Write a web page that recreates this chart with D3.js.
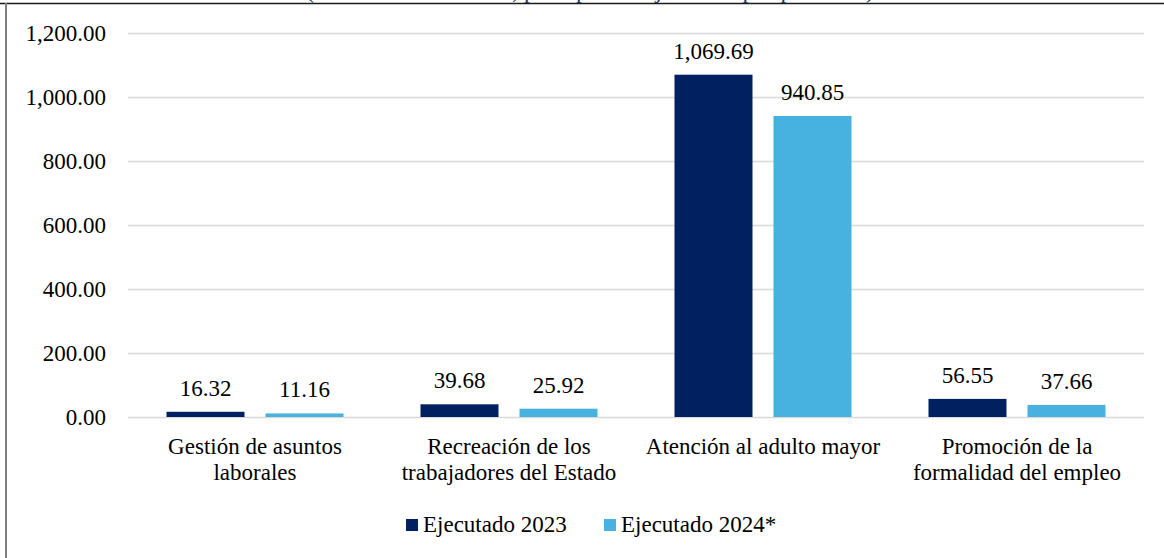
<!DOCTYPE html>
<html>
<head>
<meta charset="utf-8">
<script src="https://cdn.jsdelivr.net/npm/d3@7"></script>
<style>
  html, body { margin: 0; padding: 0; background: #fff; }
  svg { display: block; }
  svg text { font-family: "Liberation Serif", "DejaVu Serif", serif !important; fill: #000; }
</style>
</head>
<body>
<svg id="chart" width="1164" height="558"></svg>
<script>
const titleText = "(En millones de soles, presupuesto ejecutado por producto)";
const categories = ["Gestión de asuntos laborales", "Recreación de los trabajadores del Estado", "Atención al adulto mayor", "Promoción de la formalidad del empleo"];
const categoryLines = [["Gestión de asuntos", "laborales"], ["Recreación de los", "trabajadores del Estado"], ["Atención al adulto mayor"], ["Promoción de la", "formalidad del empleo"]];
const seriesNames = ["Ejecutado 2023", "Ejecutado 2024*"];
const values2023 = [16.32, 39.68, 1069.69, 56.55];
const values2024 = [11.16, 25.92, 940.85, 37.66];
const yTicks = [0, 200, 400, 600, 800, 1000, 1200];
const colors = ["#002060", "#47B1E0"];

const FONT = "'Liberation Serif', 'DejaVu Serif', serif";
const svg = d3.select("#chart").attr("font-family", FONT);
const W = 1164, H = 558;
const plotLeft = 128, plotRight = 1144;
const y0 = 417, yTop = 33;

// frame
svg.append("line").attr("x1", 0).attr("x2", W).attr("y1", 3.5).attr("y2", 3.5)
  .attr("stroke", "#1a1a1a").attr("stroke-width", 1.5);
svg.append("line").attr("x1", 6).attr("x2", 6).attr("y1", 3).attr("y2", H)
  .attr("stroke", "#7f7f7f").attr("stroke-width", 2);

// cut-off title (only descenders visible above frame, as in the reference)
svg.append("text").attr("x", 590).attr("y", -2).attr("text-anchor", "middle")
  .attr("font-family", FONT).attr("font-size", 24).style("fill", "#1f3864").text(titleText);

const x = d3.scaleBand().domain(categories).range([plotLeft, plotRight]);
const y = d3.scaleLinear().domain([0, 1200]).range([y0, yTop]);
const barW = 78, innerGap = 21;

// gridlines + y axis
const yAxis = d3.axisLeft(y).tickValues(yTicks).tickSize(-(plotRight - plotLeft)).tickPadding(22)
  .tickFormat(d => d3.format(",.2f")(d));
const gy = svg.append("g").attr("transform", `translate(${plotLeft},0)`).call(yAxis)
  .attr("font-family", FONT).attr("font-size", 23);
gy.select(".domain").remove();
gy.selectAll(".tick line").attr("stroke", "#d9d9d9").attr("stroke-width", 1.5);
gy.selectAll(".tick text").attr("dy", "0.33em").attr("font-family", FONT).attr("font-size", 23).style("fill", "#000");

// bars
const data = categories.map((c, i) => ({ cat: c, vals: [values2023[i], values2024[i]] }));
const groupOffset = (x.bandwidth() - (barW * 2 + innerGap)) / 2;
const groups = svg.append("g").selectAll("g").data(data).join("g")
  .attr("transform", d => `translate(${x(d.cat) + groupOffset},0)`);

groups.selectAll("rect").data(d => d.vals.map((v, k) => ({ v, k }))).join("rect")
  .attr("x", d => d.k * (barW + innerGap))
  .attr("width", barW)
  .attr("y", d => y(d.v))
  .attr("height", d => y0 - y(d.v))
  .attr("fill", d => colors[d.k]);

groups.selectAll("text.val").data(d => d.vals.map((v, k) => ({ v, k }))).join("text")
  .attr("class", "val")
  .attr("x", d => d.k * (barW + innerGap) + barW / 2)
  .attr("y", d => y(d.v) - 16)
  .attr("text-anchor", "middle")
  .attr("font-family", FONT)
  .attr("font-size", 23)
  .text(d => d3.format(",.2f")(d.v));

// category labels
const catG = svg.append("g");
categories.forEach((c, i) => {
  const cx = x(c) + x.bandwidth() / 2;
  const t = catG.append("text").attr("text-anchor", "middle").attr("font-family", FONT).attr("font-size", 23);
  categoryLines[i].forEach((line, j) => {
    t.append("tspan").attr("x", cx).attr("y", 454 + j * 26).text(line);
  });
});

// legend
const legendX = [406, 604];
seriesNames.forEach((s, k) => {
  svg.append("rect").attr("x", legendX[k]).attr("y", 519).attr("width", 12).attr("height", 12).attr("fill", colors[k]);
  svg.append("text").attr("x", legendX[k] + 17).attr("y", 532).attr("font-family", FONT).attr("font-size", 23).text(s);
});
</script>
</body>
</html>
